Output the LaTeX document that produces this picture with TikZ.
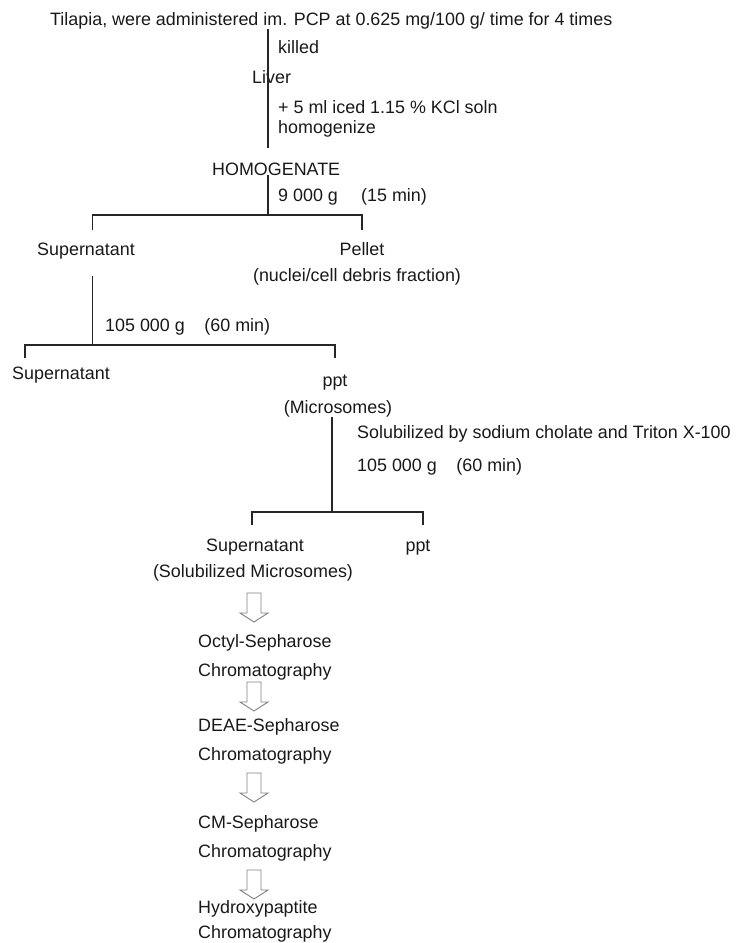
\documentclass[tikz,border=0pt]{standalone}
\usepackage{fontspec}
\setmainfont{Liberation Sans}
\usetikzlibrary{positioning,calc}

\begin{document}
\begin{tikzpicture}[
    x=1pt, y=-1pt,
    every node/.style={inner sep=0pt, text=black!90, font=\fontsize{17.9}{21}\selectfont},
    stagenode/.style={anchor=base west},
    midnode/.style={anchor=base},
    link/.style={draw=black!85, line width=1.2pt},
    downarrow/.pic={\draw[gray, fill=white, line width=0.9pt]
        (-7,0) -- (-7,20) -- (-14,20) -- (0,29) -- (14,20) -- (7,20) -- (7,0) -- cycle;}
]
    \useasboundingbox (0,0) rectangle (736,943);

    % Liver preparation
    \node[stagenode] (fish) at (50,25) {Tilapia, were administered im. PCP at 0.625 mg/100 g/ time for 4 times};
    \node[stagenode] (killed) at (278,53) {killed};
    \node[stagenode] (liver) at (252,83) {Liver};
    \node[stagenode] (kcl) at (278,113) {+ 5 ml iced 1.15 \% KCl soln};
    \node[stagenode] (homog) at (278,133) {homogenize};
    \node[stagenode] (hgt) at (212,175) {HOMOGENATE};
    \node[stagenode] (spinA) at (278,201) {9 000 g\hspace{1.3em}(15 min)};

    % First centrifugation
    \node[midnode] (supA) at (86,255) {Supernatant};
    \node[midnode] (pellet) at (362,255) {Pellet};
    \node[midnode] (debris) at (357,281) {(nuclei/cell debris fraction)};
    \node[stagenode] (spinB) at (105,331) {105 000 g\hspace{1.1em}(60 min)};

    % Second centrifugation
    \node[midnode] (supB) at (61,379) {Supernatant};
    \node[midnode] (pptB) at (335,386) {ppt};
    \node[midnode] (micro) at (338,413) {(Microsomes)};
    \node[stagenode] (solub) at (357,438) {Solubilized by sodium cholate and Triton X-100};
    \node[stagenode] (spinC) at (357,471) {105 000 g\hspace{1.1em}(60 min)};

    % Third centrifugation
    \node[midnode] (supC) at (255,551) {Supernatant};
    \node[midnode] (pptC) at (418,551) {ppt};
    \node[midnode] (solmic) at (253,577) {(Solubilized Microsomes)};

    % Column steps
    \node[stagenode] (octyl) at (198,647) {Octyl-Sepharose};
    \node[stagenode] (octylB) at (198,676) {Chromatography};
    \node[stagenode] (deae) at (198,731) {DEAE-Sepharose};
    \node[stagenode] (deaeB) at (198,760) {Chromatography};
    \node[stagenode] (cm) at (198,828) {CM-Sepharose};
    \node[stagenode] (cmB) at (198,857) {Chromatography};
    \node[stagenode] (hap) at (198,913) {Hydroxypaptite};
    \node[stagenode] (hapB) at (198,938) {Chromatography};

    % Tree lines
    \coordinate (jA) at (268,215);
    \coordinate (lA) at (92.7,230);
    \coordinate (rA) at (362,230);
    \coordinate (jB) at (92.7,345);
    \coordinate (lB) at (25,358);
    \coordinate (rB) at (335,358);
    \coordinate (jC) at (332,512);
    \coordinate (lC) at (252,525);
    \coordinate (rC) at (423,525);

    \draw[link, shorten >=14pt] (fish.south -| jA) -- (hgt.north -| jA);
    \draw[link] (hgt.south -| jA) -- (jA);
    \draw[link] (lA) -- (lA |- jA) -- (rA |- jA) -- (rA);
    \draw[link, shorten <=17pt] (supA.south -| jB) -- (jB);
    \draw[link] (lB) -- (lB |- jB) -- (rB |- jB) -- (rB);
    \draw[link] (micro.south -| jC) -- (jC);
    \draw[link] (lC) -- (lC |- jC) -- (rC |- jC) -- (rC);

    % Hollow arrows
    \pic (arrA) at (254,593) {downarrow};
    \pic (arrB) at (254,682) {downarrow};
    \pic (arrC) at (254,773) {downarrow};
    \pic (arrD) at (254,870) {downarrow};
\end{tikzpicture}
\end{document}
